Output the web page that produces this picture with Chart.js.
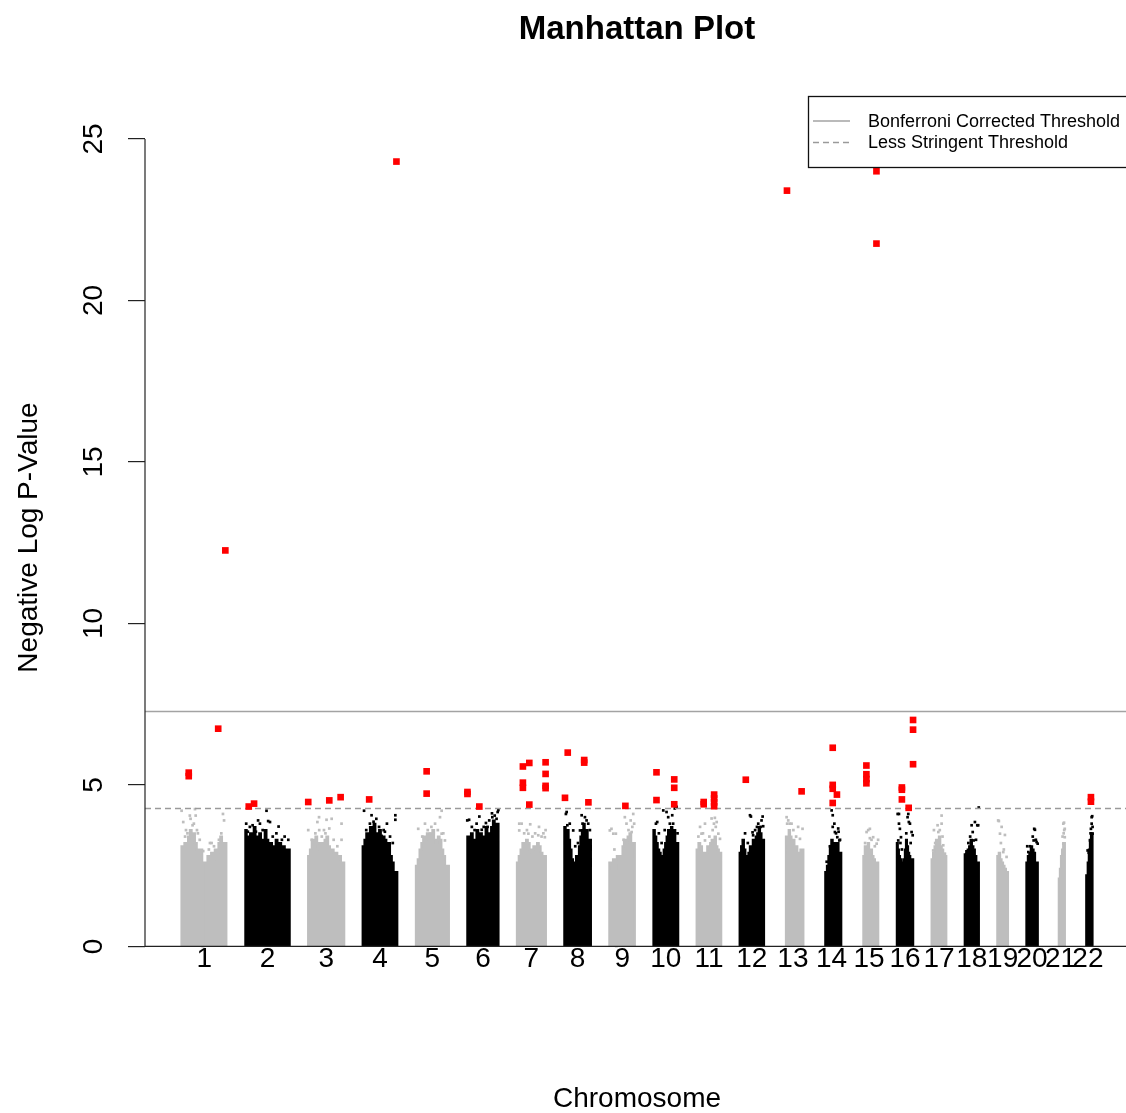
<!DOCTYPE html>
<html>
<head>
<meta charset="utf-8">
<title>Manhattan Plot</title>
<script src="https://cdn.jsdelivr.net/npm/chart.js@4.4.1/dist/chart.umd.min.js"></script>
<style>
  html, body { margin: 0; padding: 0; background: #ffffff; overflow: hidden; }
  #wrap { position: relative; width: 1140px; height: 1113px; }
</style>
</head>
<body>
<div id="wrap"><canvas id="manhattan" width="1140" height="1113"></canvas></div>
<script>
// ---- chromosome layout (Mb) ----
const chromosomes = ['1','2','3','4','5','6','7','8','9','10','11','12','13','14','15','16','17','18','19','20','21','22'];
const chrLengthMb = [249,243,198,191,181,171,159,146,141,136,135,134,115,107,103,90,81,78,59,63,48,51];
const chrGapMb = 100;
const spanEndMb = [246,243,198,190,181,171,159,146,140,136,135,134,115,107,102,90,81,78,59,63,48,51];

// ---- upper edge of the dense bulk of markers per chromosome: [start Mb, -log10 p] ----
const massProfiles = [
  [[0,2.8],[8,3.1],[16,2.9],[26,3.2],[36,3.0],[46,3.4],[56,3.6],[64,3.3],[74,3.5],[84,3.2],[94,3.0],[104,2.8],[114,3.0],[121,0],[142,2.6],[152,2.8],[162,2.6],[172,2.9],[182,2.7],[192,3.0],[202,2.9],[212,3.2],[222,3.4],[234,3.2]],
  [[0,3.2],[8,3.6],[16,3.4],[26,3.2],[36,3.5],[46,3.3],[56,3.7],[66,3.4],[76,3.2],[86,3.5],[96,3.1],[106,3.3],[116,3.6],[126,3.3],[136,3.0],[146,3.2],[156,2.9],[166,3.1],[176,3.3],[186,3.0],[196,3.2],[206,2.9],[216,3.1],[226,2.8],[236,3.0]],
  [[0,2.5],[10,2.8],[20,3.0],[30,3.3],[40,3.1],[50,3.4],[60,3.2],[70,3.0],[80,3.2],[90,3.0],[100,3.3],[110,3.4],[120,3.1],[130,2.9],[140,3.0],[150,2.7],[160,2.9],[170,2.7],[180,2.8],[190,2.6]],
  [[0,2.8],[10,3.1],[20,3.3],[30,3.5],[40,3.4],[50,3.7],[60,3.5],[70,3.8],[80,3.5],[90,3.4],[100,3.6],[110,3.2],[120,3.4],[130,3.3],[140,3.1],[150,3.2],[160,2.8],[170,2.6],[178,2.3]],
  [[0,2.4],[10,2.5],[20,2.7],[30,3.0],[40,3.2],[50,3.4],[60,3.2],[70,3.5],[80,3.3],[90,3.5],[100,3.6],[110,3.3],[120,3.2],[130,3.4],[140,3.3],[150,3.0],[160,2.8],[170,2.5]],
  [[0,3.0],[10,3.4],[20,3.2],[30,3.5],[40,3.3],[50,3.2],[60,3.6],[70,3.4],[80,3.5],[90,3.3],[100,3.4],[110,3.7],[120,3.5],[130,3.4],[140,3.7],[150,3.9],[160,3.6],[166,3.8]],
  [[0,2.5],[10,2.6],[20,2.8],[30,3.0],[40,3.2],[50,3.1],[60,3.3],[70,3.2],[80,3.0],[90,2.9],[100,3.1],[110,3.0],[120,3.2],[130,3.1],[140,2.9],[150,2.8]],
  [[0,3.3],[8,3.7],[16,3.5],[24,3.6],[32,3.3],[40,3.0],[48,2.7],[56,2.5],[64,2.6],[72,2.8],[80,2.7],[88,3.1],[96,3.4],[104,3.6],[112,3.8],[120,3.5],[128,3.6],[136,3.3]],
  [[0,2.4],[10,2.6],[20,2.5],[30,2.7],[36,2.4],[41,0],[72,2.8],[80,3.1],[90,3.3],[100,3.2],[110,3.4],[120,3.5],[130,3.2]],
  [[0,3.3],[8,3.6],[16,3.4],[24,3.2],[32,3.0],[40,2.9],[48,2.7],[56,2.8],[64,3.0],[72,3.2],[80,3.4],[88,3.6],[96,3.5],[104,3.7],[112,3.5],[120,3.6],[128,3.2]],
  [[0,2.8],[10,3.0],[20,3.2],[30,3.1],[40,2.9],[50,2.7],[58,2.9],[66,3.1],[74,3.0],[82,3.2],[90,3.3],[98,3.2],[106,3.4],[114,3.1],[122,3.0],[130,2.9]],
  [[0,2.7],[8,2.9],[16,3.1],[24,3.3],[32,3.0],[40,2.8],[48,2.7],[56,2.9],[64,3.1],[72,3.0],[80,3.3],[88,3.2],[96,3.4],[104,3.5],[112,3.7],[120,3.5],[128,3.3]],
  [[19,3.0],[26,3.4],[34,3.3],[42,3.6],[50,3.4],[58,3.2],[66,3.3],[74,3.0],[82,3.1],[90,2.9],[98,2.8],[106,3.0]],
  [[19,2.25],[28,2.3],[36,2.5],[44,2.8],[52,3.1],[60,3.3],[68,3.0],[76,3.2],[84,3.0],[92,3.2],[100,2.9]],
  [[20,2.5],[28,2.8],[36,3.1],[44,3.0],[52,3.2],[60,2.9],[68,3.0],[76,2.8],[84,2.7],[92,2.6]],
  [[0,2.9],[6,3.2],[12,3.0],[18,2.8],[24,2.7],[30,2.6],[36,2.5],[44,2.7],[50,3.0],[56,3.3],[62,3.1],[68,2.9],[74,2.8],[80,2.6],[86,2.7]],
  [[0,2.5],[8,2.7],[16,2.9],[24,3.1],[32,3.3],[40,3.2],[48,3.4],[56,3.1],[64,3.0],[72,2.8]],
  [[0,2.75],[8,2.85],[16,2.95],[24,3.0],[32,3.1],[40,3.3],[48,3.1],[56,3.0],[64,2.8],[72,2.6]],
  [[0,2.5],[8,2.8],[16,2.9],[24,2.7],[32,2.6],[40,2.5],[48,2.4],[54,2.3]],
  [[0,2.4],[8,2.6],[16,2.8],[24,2.9],[32,3.1],[40,3.0],[48,2.9],[56,2.6]],
  [[14,1.8],[20,2.1],[26,2.4],[32,2.8],[38,3.0],[44,3.2]],
  [[16,2.15],[24,2.2],[30,2.6],[36,3.0],[42,3.3],[47,3.5]]
];

// ---- individual markers standing above the bulk: [chromosome, Mb, -log10 p] ----
const backgroundHits = [
  [1,1,4.2],[1,10,3.85],[1,20,3.4],[1,25,3.6],[1,33,3.5],[1,46,4.05],[1,50,3.95],[1,61,3.75],[1,68,3.8],[1,74,4.25],[1,78,4.05],[1,85,3.6],[1,90,3.5],[1,100,3.3],[1,119,2.95],[1,150,3.0],[1,156,3.2],[1,165,3.2],[1,178,3.1],[1,205,3.3],[1,218,3.5],[1,227,4.1],[1,233,3.9],
  [2,5,3.8],[2,14,3.55],[2,25,3.7],[2,40,3.75],[2,58,3.55],[2,70,3.9],[2,80,3.8],[2,95,3.6],[2,116,4.2],[2,125,3.88],[2,135,3.85],[2,150,3.4],[2,170,3.5],[2,182,3.71],[2,200,3.3],[2,215,3.4],[2,235,3.3],
  [3,1,3.6],[3,20,3.3],[3,40,3.5],[3,51,3.85],[3,60,4.0],[3,61,3.6],[3,75,3.4],[3,87,3.6],[3,95,3.5],[3,101,3.92],[3,116,3.65],[3,129,3.95],[3,140,3.3],[3,160,3.1],[3,183,3.8],[3,183,3.3],
  [4,8,4.2],[4,20,3.6],[4,40,3.8],[4,49,4.06],[4,60,3.86],[4,75,3.95],[4,90,3.7],[4,104,3.42],[4,115,3.6],[4,122,3.55],[4,133,3.8],[4,150,3.4],[4,165,3.2],[4,179,4.06],[4,179,3.92],
  [5,13,3.64],[5,35,3.4],[5,50,3.8],[5,65,3.6],[5,77,3.49],[5,85,3.7],[5,96,3.33],[5,105,3.8],[5,120,3.6],[5,132,4.0],[5,141,4.2],[5,141,3.49],[5,150,3.5],[5,159,3.28],
  [6,0,3.9],[6,10,3.92],[6,25,3.7],[6,40,3.6],[6,51,3.8],[6,66,4.02],[6,79,3.61],[6,90,3.7],[6,102,3.82],[6,111,3.7],[6,120,3.9],[6,135,4.12],[6,137,4.0],[6,150,4.05],[6,160,3.95],[6,166,4.16],[6,170,4.22],
  [7,13,3.8],[7,13,3.59],[7,26,3.8],[7,40,3.5],[7,55,3.6],[7,63,3.49],[7,73,3.78],[7,85,3.4],[7,100,3.5],[7,117,3.44],[7,121,3.7],[7,135,3.4],[7,145,3.5],[7,153,3.38],[7,157,3.6],
  [8,9,4.1],[8,13,4.16],[8,17,3.75],[8,30,3.8],[8,49,3.59],[8,60,3.1],[8,75,3.2],[8,86,3.59],[8,95,4.06],[8,100,3.8],[8,113,4.0],[8,122,3.9],[8,131,3.8],[8,140,3.6],
  [9,3,3.59],[9,12,3.64],[9,22,3.49],[9,28,3.0],[9,36,3.49],[9,78,3.3],[9,85,4.0],[9,94,3.8],[9,105,3.6],[9,117,3.9],[9,122,3.54],[9,126,3.7],[9,131,4.1],[9,136,3.8],
  [10,14,3.8],[10,21,3.85],[10,30,3.5],[10,45,3.2],[10,54,4.21],[10,62,3.6],[10,72,4.16],[10,81,4.0],[10,90,3.8],[10,99,3.59],[10,103,4.06],[10,108,3.8],[10,117,4.27],[10,127,4.32],[10,132,3.5],
  [11,10,3.4],[11,19,3.7],[11,27,3.49],[11,35,3.5],[11,46,3.28],[11,46,3.8],[11,70,3.4],[11,82,3.96],[11,88,3.6],[11,95,3.8],[11,100,3.98],[11,105,3.7],[11,110,3.85],[11,119,3.49],[11,128,3.33],
  [12,11,3.08],[12,20,3.28],[12,30,3.5],[12,45,3.2],[12,57,4.06],[12,62,4.02],[12,71,3.53],[12,74,3.44],[12,85,3.6],[12,95,3.7],[12,102,3.8],[12,115,3.7],[12,120,3.9],[12,126,4.02],[12,129,3.72],
  [13,23,4.0],[13,26,3.8],[13,32,3.9],[13,40,3.8],[13,50,3.8],[13,60,3.6],[13,75,3.4],[13,86,3.7],[13,96,3.33],[13,110,3.64],
  [14,27,2.62],[14,45,3.1],[14,54,4.21],[14,60,4.06],[14,60,3.7],[14,69,3.8],[14,72,3.54],[14,78,3.5],[14,85,3.38],[14,90,3.65],[14,92,3.55],[14,96,3.28],[14,100,3.3],
  [15,30,3.2],[15,38,3.54],[15,47,3.6],[15,56,3.64],[15,56,3.35],[15,65,3.3],[15,74,3.38],[15,83,3.1],[15,93,3.18],[15,101,3.3],
  [16,5,4.1],[16,8,3.28],[16,12,3.8],[16,12,4.1],[16,17,3.64],[16,20,3.2],[16,23,3.38],[16,28,3.0],[16,52,3.5],[16,59,4.0],[16,63,4.1],[16,66,3.85],[16,72,3.8],[16,76,3.2],[16,81,3.54],[16,87,3.44],
  [17,9,2.97],[17,13,3.6],[17,20,3.2],[17,33,3.75],[17,37,3.54],[17,45,3.6],[17,55,4.05],[17,55,3.8],[17,60,3.4],[17,64,3.13],[17,73,2.87],
  [18,20,3.2],[18,30,3.4],[18,38,3.75],[18,44,3.54],[18,49,3.28],[18,56,3.85],[18,62,3.3],[18,69,3.75],[18,74,3.75],[18,77,4.3],
  [19,5,3.9],[19,9,3.88],[19,15,3.49],[19,20,3.2],[19,24,3.7],[19,33,2.92],[19,36,3.0],[19,42,3.45],[19,51,2.77],
  [20,5,3.1],[20,11,2.92],[20,20,3.1],[20,29,2.87],[20,35,3.4],[20,40,3.28],[20,43,3.64],[20,47,3.61],[20,52,3.3],[20,56,3.23],[20,62,3.18],
  [21,30,2.77],[21,35,3.4],[21,39,3.8],[21,39,3.18],[21,41,3.5],[21,43,3.83],[21,44,3.6],[21,47,3.64],[21,47,3.38],
  [22,24,2.97],[22,30,2.9],[22,37,3.28],[22,40,3.5],[22,42,3.64],[22,46,3.8],[22,46,4.0],[22,49,4.03],[22,51,3.49],[22,51,3.7]
];

// ---- markers past the less stringent threshold: [chromosome, Mb, -log10 p] ----
const leadHits = [
  [1,40,5.38],[1,40,5.27],[1,201,6.74],[1,240,12.26],
  [2,19,4.33],[2,48,4.42],
  [3,1,4.47],[3,116,4.52],[3,178,4.62],
  [4,36,4.55],[4,185,24.3],
  [5,59,5.42],[5,59,4.73],
  [6,1,4.78],[6,1,4.72],[6,66,4.33],
  [7,33,5.57],[7,68,5.68],[7,33,5.07],[7,33,4.91],[7,68,4.39],[7,157,5.7],[7,157,5.34],[7,157,4.97],[7,157,4.9],
  [8,19,6.0],[8,4,4.6],[8,109,5.77],[8,109,5.69],[8,132,4.46],
  [9,88,4.35],
  [10,17,5.39],[10,17,4.53],[10,114,5.17],[10,114,4.91],[10,114,4.4],
  [11,39,4.47],[11,39,4.4],[11,96,4.7],[11,96,4.58],[11,96,4.46],[11,96,4.34],
  [12,34,5.16],
  [13,25,23.4],[13,105,4.8],
  [14,60,6.15],[14,60,5.0],[14,60,4.88],[14,83,4.7],[14,60,4.44],
  [15,37,5.6],[15,37,5.33],[15,37,5.18],[15,37,5.05],[15,92,24.0],[15,92,21.76],
  [16,28,4.92],[16,28,4.85],[16,28,4.55],[16,65,4.29],[16,89,7.01],[16,89,6.71],[16,89,5.64],
  [22,42,4.62],[22,42,4.48]
];

// ---- thresholds and axes ----
const thresholds = [7.27, 4.27];
const thresholdLabels = ['Bonferroni Corrected Threshold', 'Less Stringent Threshold'];
const yTickValues = [0, 5, 10, 15, 20, 25];
const xLimits = [-199, 5178];
const yLimits = [-1.01, 26.33];

const FONT = '"Liberation Sans", Arial, Helvetica, sans-serif';
const GREY = '#bebebe';
const BLACK = '#000000';

// cumulative start of each chromosome along the genome axis
const chrOffsetMb = [];
chrLengthMb.reduce((acc, len, i) => { chrOffsetMb[i] = acc; return acc + len + chrGapMb; }, 0);
const chrMidMb = chrLengthMb.map((len, i) => chrOffsetMb[i] + len / 2);
const chrColour = i => (i % 2 === 0 ? GREY : BLACK);

// dense bulk of each chromosome as a stepped, filled outline
const massDatasets = massProfiles.map((prof, i) => {
  const off = chrOffsetMb[i];
  const pts = [{ x: off + prof[0][0], y: 0 }];
  prof.forEach(([p, v]) => pts.push({ x: off + p, y: v }));
  pts.push({ x: off + spanEndMb[i], y: prof[prof.length - 1][1] });
  pts.push({ x: off + spanEndMb[i], y: 0 });
  const c = chrColour(i);
  return {
    label: 'chr' + chromosomes[i],
    data: pts,
    stepped: 'after',
    fill: 'origin',
    backgroundColor: c,
    borderColor: c,
    borderWidth: 2,
    pointRadius: 0,
    order: 40
  };
});

const toPoints = rows => rows.map(([c, p, v]) => ({ x: chrOffsetMb[c - 1] + p, y: v }));

const greyHits = toPoints(backgroundHits.filter(r => r[0] % 2 === 1));
const blackHits = toPoints(backgroundHits.filter(r => r[0] % 2 === 0));

const pointSet = (label, data, colour, radius, order) => ({
  label, data, showLine: false,
  pointStyle: 'rect', pointRadius: radius,
  pointBackgroundColor: colour, pointBorderWidth: 0,
  order
});

const thresholdDatasets = thresholds.map((t, i) => ({
  label: thresholdLabels[i],
  data: [{ x: xLimits[0], y: t }, { x: xLimits[1], y: t }],
  borderColor: i === 0 ? '#a3a3a3' : '#9a9a9a',
  borderWidth: 1.5,
  borderDash: i === 0 ? [] : [6, 4],
  pointRadius: 0,
  fill: false,
  order: 5
}));

// axis lines and the boxed legend
const frame = {
  id: 'frame',
  afterDatasetsDraw(chart) {
    const { ctx, chartArea: a, scales: { y } } = chart;
    ctx.save();
    ctx.strokeStyle = '#222';
    ctx.lineWidth = 1.2;
    const y0 = y.getPixelForValue(0);
    ctx.beginPath();
    ctx.moveTo(a.left, y0);
    ctx.lineTo(a.right, y0);
    ctx.stroke();
    ctx.beginPath();
    ctx.moveTo(a.left, y.getPixelForValue(yTickValues[0]));
    ctx.lineTo(a.left, y.getPixelForValue(yTickValues[yTickValues.length - 1]));
    ctx.stroke();

    // legend
    const w = 321, h = 71;
    const left = a.right - w, top = a.top;
    ctx.fillStyle = '#ffffff';
    ctx.fillRect(left, top, w, h);
    ctx.lineWidth = 1.3;
    ctx.strokeStyle = '#111';
    ctx.strokeRect(left + 0.5, top + 0.5, w, h);
    ctx.font = '18px ' + FONT;
    ctx.textBaseline = 'middle';
    ctx.textAlign = 'left';
    thresholdLabels.forEach((lab, i) => {
      const ry = top + 26 + i * 21.5;
      ctx.beginPath();
      ctx.setLineDash(i === 0 ? [] : [6, 4]);
      ctx.strokeStyle = i === 0 ? '#a3a3a3' : '#9a9a9a';
      ctx.lineWidth = 1.5;
      ctx.moveTo(left + 5, ry - 1);
      ctx.lineTo(left + 42, ry - 1);
      ctx.stroke();
      ctx.setLineDash([]);
      ctx.fillStyle = '#000';
      ctx.fillText(lab, left + 60, ry);
    });
    ctx.restore();
  }
};

new Chart(document.getElementById('manhattan'), {
  type: 'line',
  data: {
    datasets: [
      pointSet('Suggestive hits', toPoints(leadHits), '#ff0000', 4.7, 1),
      ...thresholdDatasets,
      pointSet('Odd chromosomes', greyHits, GREY, 1.9, 20),
      pointSet('Even chromosomes', blackHits, BLACK, 1.9, 20),
      ...massDatasets
    ]
  },
  options: {
    responsive: false,
    devicePixelRatio: 1,
    animation: false,
    events: [],
    layout: { padding: { left: 0, right: 11, top: 0, bottom: 0 } },
    plugins: {
      legend: { display: false },
      tooltip: { enabled: false },
      title: {
        display: true,
        text: 'Manhattan Plot',
        fullSize: false,
        color: '#000',
        font: { family: FONT, size: 33, weight: 'bold', lineHeight: 1 },
        padding: { top: 13, bottom: 50 }
      }
    },
    scales: {
      x: {
        type: 'linear',
        min: xLimits[0],
        max: xLimits[1],
        afterBuildTicks: s => { s.ticks = chrMidMb.map(v => ({ value: v })); },
        afterFit: s => { s.height = 134; },
        grid: { display: false },
        border: { display: false },
        ticks: {
          autoSkip: false, minRotation: 0, maxRotation: 0,
          mirror: true, padding: 6,
          color: '#000', font: { family: FONT, size: 28, lineHeight: 1 },
          callback: (v, i) => chromosomes[i]
        },
        title: {
          display: true, text: 'Chromosome', color: '#000',
          font: { family: FONT, size: 28, lineHeight: 1 },
          padding: { top: 0, bottom: 0 }
        }
      },
      y: {
        type: 'linear',
        min: yLimits[0],
        max: yLimits[1],
        afterBuildTicks: s => { s.ticks = yTickValues.map(v => ({ value: v })); },
        afterFit: s => { s.width = 145; },
        grid: { display: true, drawOnChartArea: false, drawTicks: true, tickLength: 17, color: '#222', lineWidth: 1.2 },
        border: { display: false },
        ticks: {
          minRotation: 90, maxRotation: 90, crossAlign: 'center', padding: 18,
          color: '#000', font: { family: FONT, size: 28, lineHeight: 1 },
          callback: v => String(v)
        },
        title: {
          display: true, text: 'Negative Log P-Value', color: '#000',
          font: { family: FONT, size: 28, lineHeight: 1 },
          padding: { top: 15, bottom: 0 }
        }
      }
    }
  },
  plugins: [frame]
});
</script>
</body>
</html>
